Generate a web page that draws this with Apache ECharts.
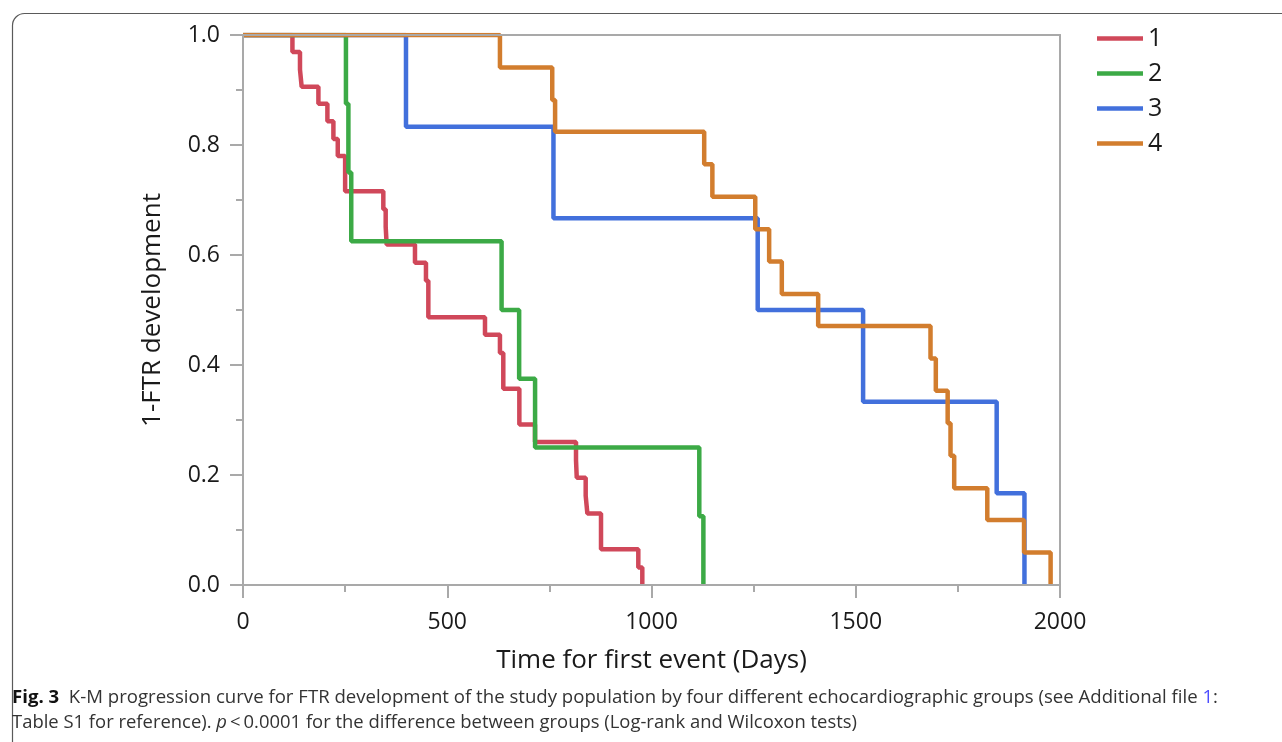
<!DOCTYPE html>
<html>
<head>
<meta charset="utf-8">
<script src="https://cdn.jsdelivr.net/npm/echarts@6/dist/echarts.min.js"></script>
<style>html,body{margin:0;padding:0;background:#fff;overflow:hidden}#c{width:1282px;height:742px}</style>
</head>
<body>
<div id="c"></div>
<script>
// ---- Data ----
const groupNames = ['1', '2', '3', '4'];
const groupColors = ['#d0485a', '#3caa46', '#4270dc', '#d27d2e'];

// Kaplan-Meier steps: event time (days) and survival value after that time
const g1Days = [0, 121, 139.5, 143.6, 184.6, 206.6, 221.3, 232, 250, 343.5, 349.3, 351.7, 421, 447.9, 453.7, 592.4, 629, 637.2, 676.5, 714.8, 815.2, 817, 838.9, 843, 876.4, 967.7, 977.5];
const g1Surv = [1, 0.969, 0.937, 0.906, 0.875, 0.843, 0.811, 0.780, 0.716, 0.683, 0.651, 0.619, 0.586, 0.553, 0.487, 0.455, 0.422, 0.357, 0.292, 0.260, 0.227, 0.195, 0.162, 0.130, 0.065, 0.032, 0];

const g2Days = [0, 252, 258, 265, 633, 676, 715, 1117, 1127];
const g2Surv = [1, 0.875, 0.75, 0.625, 0.5, 0.375, 0.25, 0.125, 0];

const g3Days = [0, 399, 760, 1260, 1518, 1845, 1913];
const g3Surv = [1, 0.833, 0.667, 0.5, 0.333, 0.167, 0];

const g4Days = [0, 629, 757, 764, 1129, 1149, 1254, 1288, 1319, 1408, 1683, 1696, 1725, 1732, 1741, 1822, 1912, 1977];
const g4Surv = [1, 0.941, 0.882, 0.824, 0.765, 0.706, 0.647, 0.588, 0.529, 0.471, 0.412, 0.353, 0.294, 0.235, 0.176, 0.118, 0.059, 0];

const xAxisTitle = 'Time for first event (Days)';
const yAxisTitle = '1-FTR development';
const xMin = 0, xMax = 2000, xInterval = 500;
const yMin = 0, yMax = 1, yInterval = 0.2;

const captionLine1 = [
  { t: 'Fig. 3', w: 'bold' },
  { t: '  K-M progression curve for FTR development of the study population by four different echocardiographic groups (see Additional file ' },
  { t: '1', c: '#4d4dff' },
  { t: ':' }
];
const captionLine2 = [
  { t: 'Table S1 for reference). ' },
  { t: 'p', s: 'italic' },
  { t: '\u2009<\u20090.0001 for the difference between groups (Log-rank and Wilcoxon tests)' }
];

// ---- Build ----
const FF = "'Open Sans', 'Noto Sans', sans-serif";
const groups = [[g1Days, g1Surv], [g2Days, g2Surv], [g3Days, g3Surv], [g4Days, g4Surv]];

const series = groups.map((g, i) => ({
  name: groupNames[i],
  type: 'line',
  step: 'end',
  symbol: 'none',
  showSymbol: false,
  xAxisIndex: 0,
  yAxisIndex: 0,
  data: g[0].map((d, k) => [d, g[1][k]]),
  lineStyle: { width: 4.5, color: groupColors[i] },
  itemStyle: { color: groupColors[i] },
  emphasis: { disabled: true },
  z: 2 + i
}));

const CAP_SIZE = 18;
function buildRich(segs) {
  const rich = {};
  let text = '';
  const ctx = document.createElement('canvas').getContext('2d');
  let width = 0;
  segs.forEach((s, i) => {
    const key = 's' + i;
    const col = s.c || (s.w ? '#111' : '#333');
    rich[key] = {
      fontFamily: FF, fontSize: CAP_SIZE,
      fontWeight: s.w || 'normal', fontStyle: s.s || 'normal',
      fill: col, color: col
    };
    ctx.font = (s.s || 'normal') + ' ' + (s.w || 'normal') + ' ' + CAP_SIZE + 'px ' + FF;
    width += ctx.measureText(s.t).width;
    text += '{' + key + '|' + s.t.replace(/[{}|]/g, '') + '}';
  });
  return { rich, text, width };
}
const cap1 = buildRich(captionLine1);
const cap2 = buildRich(captionLine2);
const cap1Target = 1206, cap2Target = 845;

const chart = echarts.init(document.getElementById('c'), null, { renderer: 'canvas' });

const axisGray = '#a9a9a9';
chart.setOption({
  animation: false,
  backgroundColor: '#fff',
  grid: { left: 243, top: 35, right: 222, bottom: 157, containLabel: false },
  legend: {
    orient: 'vertical',
    left: 1092,
    top: 21,
    padding: 5,
    itemWidth: 46,
    itemHeight: 14,
    itemGap: 10,
    icon: 'path://M0,0L46,0L46,4.5L0,4.5Z',
    textStyle: { fontFamily: FF, fontSize: 25, color: '#1a1a1a', lineHeight: 24 },
    data: groupNames.map((n, i) => ({ name: n, itemStyle: { color: groupColors[i] } }))
  },
  xAxis: [{
    type: 'value', min: xMin, max: xMax, interval: xInterval, position: 'bottom',
    name: xAxisTitle, nameLocation: 'middle', nameGap: 63,
    nameTextStyle: { fontFamily: FF, fontSize: 26, color: '#1a1a1a' },
    axisLine: { show: true, lineStyle: { color: axisGray, width: 2 } },
    axisTick: { show: true, inside: false, length: 13, lineStyle: { color: axisGray, width: 2 } },
    minorTick: { show: true, splitNumber: 2, length: 7, lineStyle: { color: axisGray, width: 2 } },
    axisLabel: { margin: 26, fontFamily: FF, fontSize: 23, color: '#1a1a1a', formatter: v => String(v) },
    splitLine: { show: false },
    z: 10
  }, {
    type: 'value', min: xMin, max: xMax, interval: xInterval, position: 'top',
    axisLine: { show: true, onZero: false, lineStyle: { color: axisGray, width: 2 } },
    axisTick: { show: false }, axisLabel: { show: false }, splitLine: { show: false },
    z: 10
  }],
  yAxis: [{
    type: 'value', min: yMin, max: yMax, interval: yInterval, position: 'left',
    name: yAxisTitle, nameLocation: 'middle', nameGap: 77,
    nameTextStyle: { fontFamily: FF, fontSize: 26, color: '#1a1a1a' },
    axisLine: { show: true, onZero: false, lineStyle: { color: axisGray, width: 2 } },
    axisTick: { show: true, inside: false, length: 13, lineStyle: { color: axisGray, width: 2 } },
    minorTick: { show: true, splitNumber: 2, length: 7, lineStyle: { color: axisGray, width: 2 } },
    axisLabel: { margin: 23, fontFamily: FF, fontSize: 23, color: '#1a1a1a', formatter: v => v.toFixed(1) },
    splitLine: { show: false },
    z: 10
  }, {
    type: 'value', min: yMin, max: yMax, interval: yInterval, position: 'right',
    axisLine: { show: true, onZero: false, lineStyle: { color: axisGray, width: 2 } },
    axisTick: { show: false }, axisLabel: { show: false }, splitLine: { show: false },
    z: 10
  }],
  graphic: [
    {
      type: 'rect', left: 10, top: 11, silent: true, z: -10,
      shape: { x: 0, y: 0, width: 1400, height: 900, r: 12 },
      style: { fill: 'none', stroke: '#5a5a5a', lineWidth: 1.2 }
    },
    {
      type: 'text', x: 12, y: 698, scaleX: cap1Target / cap1.width, scaleY: 1, silent: true,
      style: { text: cap1.text, rich: cap1.rich, fontFamily: FF, fontSize: CAP_SIZE, verticalAlign: 'middle', align: 'left' }
    },
    {
      type: 'text', x: 12, y: 723, scaleX: cap2Target / cap2.width, scaleY: 1, silent: true,
      style: { text: cap2.text, rich: cap2.rich, fontFamily: FF, fontSize: CAP_SIZE, verticalAlign: 'middle', align: 'left' }
    }
  ],
  series: series
});
</script>
</body>
</html>
